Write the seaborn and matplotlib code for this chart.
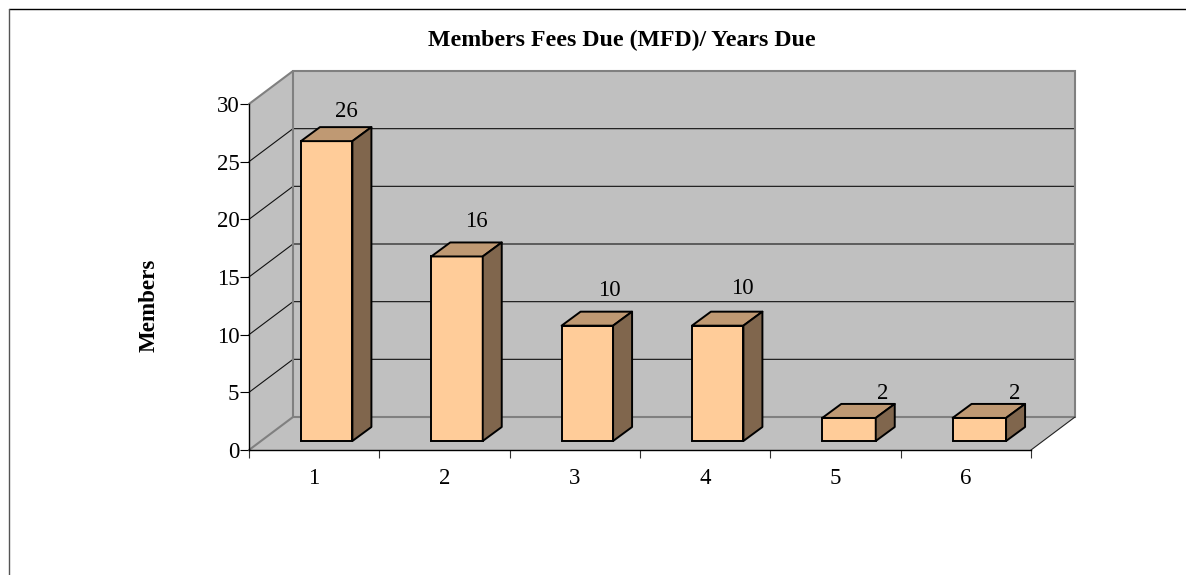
import matplotlib
matplotlib.use("Agg")
import matplotlib.pyplot as plt
from matplotlib.lines import Line2D
from matplotlib.patches import Polygon
import seaborn as sns

years_due = ["1", "2", "3", "4", "5", "6"]
members = [26, 16, 10, 10, 2, 2]
y_ticks = [0, 5, 10, 15, 20, 25, 30]

W, H = 1186, 575
sns.set_theme(style="white")
plt.rcParams["font.family"] = ["Liberation Serif", "DejaVu Serif"]

fig = plt.figure(figsize=(W / 100, H / 100), dpi=100, facecolor="white")
ax = fig.add_axes([249 / W, (H - 450) / H, 782 / W, 346 / H])
ax.set_facecolor("none")

sns.barplot(x=years_due, y=members, color="#FFCC99", saturation=1, width=0.395,
            edgecolor="black", linewidth=1.4, ax=ax, zorder=5)
ax.set_xlim(-0.5, 5.5)
ax.set_ylim(0, 30)


def dx(px):
    return px * 6 / 782


def dy(px):
    return px * 30 / 346


WALL = "#C0C0C0"
EDGE = "#808080"
bx, by = dx(44), dy(33)
x0, x1 = -0.5, 5.5
y0, y1 = 0, 30

# walls and floor of the 3-D box
ax.add_patch(Polygon([(x0 + bx, by), (x1 + bx, by), (x1 + bx, y1 + by), (x0 + bx, y1 + by)],
                     fc=WALL, ec="none", clip_on=False, zorder=0))
ax.add_patch(Polygon([(x0, y0), (x0 + bx, by), (x0 + bx, y1 + by), (x0, y1)],
                     fc=WALL, ec="none", clip_on=False, zorder=0))
ax.add_patch(Polygon([(x0, y0), (x1, y0), (x1 + bx, by), (x0 + bx, by)],
                     fc=WALL, ec="none", clip_on=False, zorder=0))

for t in y_ticks[1:-1]:
    ax.plot([x0, x0 + bx, x1 + bx], [t, t + by, t + by], color="#111111", lw=0.8,
            clip_on=False, zorder=1)

edge_paths = [
    ([x0, x0 + bx, x1 + bx, x1 + bx, x0 + bx, x0 + bx],
     [y1, y1 + by, y1 + by, by, by, y1 + by]),
    ([x0, x0 + bx], [y0, by]),
]
for xs, ys in edge_paths:
    ax.plot(xs, ys, color=EDGE, lw=1.5, clip_on=False, zorder=2, solid_joinstyle="miter")
ax.plot([x1, x1 + bx], [y0, by], color="#222222", lw=0.8, clip_on=False, zorder=2)

# 3-D bars: shift seaborn's front faces, then add the top and side faces
shift_x, shift_y = dx(12.5), dy(9)
depth_x, depth_y = dx(19), dy(14)
extra_width = [0, 0, 0, 0, 2, 2]
label_offsets = [(20, 30), (19, 35), (22, 35), (25, 37), (34, 24), (35, 24)]
for patch, value, extra, (ox, oy) in zip(ax.patches[:len(members)], members, extra_width,
                                         label_offsets):
    patch.set_x(patch.get_x() + shift_x)
    patch.set_y(shift_y)
    patch.set_width(patch.get_width() + dx(extra))
    patch.set_clip_on(False)
    left = patch.get_x()
    right = left + patch.get_width()
    top = shift_y + value
    ax.add_patch(Polygon([(left, top), (right, top), (right + depth_x, top + depth_y),
                          (left + depth_x, top + depth_y)], fc="#BF9973", ec="black",
                         lw=1.4, clip_on=False, zorder=6, joinstyle="round"))
    ax.add_patch(Polygon([(right, shift_y), (right + depth_x, shift_y + depth_y),
                          (right + depth_x, top + depth_y), (right, top)], fc="#80664D",
                         ec="black", lw=1.4, clip_on=False, zorder=6, joinstyle="round"))
    ax.annotate(str(value), xy=((left + right) / 2, top), xytext=(ox, oy),
                textcoords="offset pixels", ha="center", va="center",
                fontsize=16.5, color="black", zorder=8, annotation_clip=False)

# axes, ticks, labels
sns.despine(ax=ax, top=True, right=True)
for side in ("left", "bottom"):
    ax.spines[side].set_color("black")
    ax.spines[side].set_linewidth(1.0)
    ax.spines[side].set_zorder(3)
ax.set_yticks(y_ticks)
ax.tick_params(axis="y", which="major", left=True, length=6.5, width=0.8, color="black",
               labelsize=16.5, pad=0.5, labelcolor="black")
ax.set_xticks(range(len(years_due)), years_due)
ax.tick_params(axis="x", which="major", bottom=False, length=0, labelsize=16.5, pad=13,
               labelcolor="black")
ax.set_xticks([x0 + i for i in range(len(years_due) + 1)], minor=True)
ax.tick_params(axis="x", which="minor", bottom=True, length=6, width=0.8, color="#333333")
ax.set_xlabel("")
ax.set_ylabel("")

fig.text(621.5 / W, 1 - 40 / H, "Members Fees Due (MFD)/ Years Due", ha="center", va="center",
         fontsize=17.2, fontweight="bold", color="black")
fig.text(149 / W, 1 - 305 / H, "Members", rotation=90, ha="center", va="center",
         fontsize=16.6, fontweight="bold", color="black")

# outer frame
fig.add_artist(Line2D([8.5 / W, 1], [1 - 9 / H, 1 - 9 / H], color="black", lw=1.0,
                      transform=fig.transFigure))
fig.add_artist(Line2D([8.5 / W, 8.5 / W], [0, 1 - 9 / H], color="#555555", lw=1.0,
                      transform=fig.transFigure))

fig.savefig("out.png", dpi=100)
